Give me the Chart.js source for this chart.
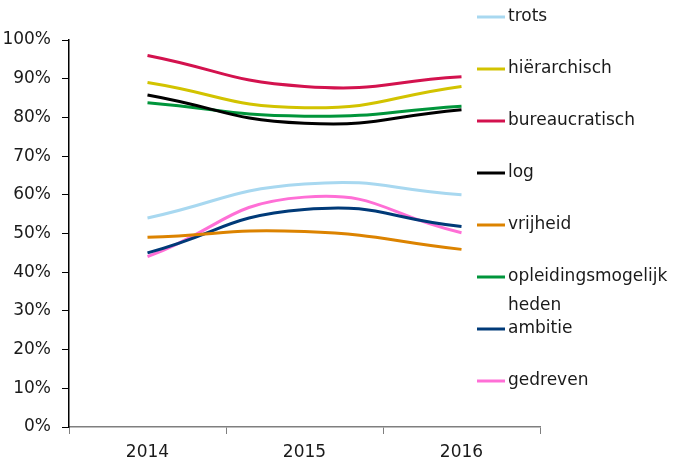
<!DOCTYPE html>
<html>
<head>
<meta charset="utf-8">
<script src="https://cdn.jsdelivr.net/npm/chart.js@4/dist/chart.umd.min.js"></script>
<style>
  html, body { margin: 0; padding: 0; background: #fff; }
  #wrap { width: 691px; height: 464px; }
</style>
</head>
<body>
<div id="wrap"><canvas id="chart" width="691" height="464"></canvas></div>
<script>
const years = ["2014", "2015", "2016"];
const yTicks = [0, 10, 20, 30, 40, 50, 60, 70, 80, 90, 100];

const seriesNames = ["trots", "hiërarchisch", "bureaucratisch", "log", "vrijheid", "opleidingsmogelijkheden", "ambitie", "gedreven"];
const legendText = [["trots"], ["hiërarchisch"], ["bureaucratisch"], ["log"], ["vrijheid"], ["opleidingsmogelijk", "heden"], ["ambitie"], ["gedreven"]];

const trots = [54, 62.8, 60];
const hierarchisch = [89, 82.5, 88];
const bureaucratisch = [96, 88, 90.5];
const log = [85.8, 78.5, 82];
const vrijheid = [49, 50.5, 45.9];
const opleidingsmogelijkheden = [83.8, 80.3, 82.9];
const ambitie = [45, 56.2, 51.8];
const gedreven = [44, 59.4, 50.2];

const seriesValues = [trots, hierarchisch, bureaucratisch, log, vrijheid, opleidingsmogelijkheden, ambitie, gedreven];
const seriesColors = ["#a8d8f0", "#d2c300", "#d3124e", "#000000", "#dc8300", "#00953b", "#003a78", "#ff6fd6"];

const FONT = "'DejaVu Sans', sans-serif";

// legend drawn by hand so the long label can wrap like the original
const sideLegend = {
  id: "sideLegend",
  afterDraw(chart) {
    const ctx = chart.ctx;
    ctx.save();
    ctx.font = "17px " + FONT;
    ctx.textBaseline = "middle";
    ctx.textAlign = "left";
    chart.data.datasets.forEach((ds, i) => {
      const y = 17 + 52 * i;
      ctx.strokeStyle = ds.borderColor;
      ctx.lineWidth = 3;
      ctx.beginPath();
      ctx.moveTo(477, y);
      ctx.lineTo(505, y);
      ctx.stroke();
      ctx.fillStyle = "#1a1a1a";
      legendText[i].forEach((line, j) => {
        ctx.fillText(line, 508, y + j * 29);
      });
    });
    ctx.restore();
  }
};

const datasets = seriesNames.map((name, i) => ({
  label: name,
  data: seriesValues[i],
  borderColor: seriesColors[i],
  backgroundColor: seriesColors[i],
  borderWidth: 3,
  pointRadius: 0,
  tension: 0.5,
  fill: false
}));

new Chart(document.getElementById("chart"), {
  type: "line",
  data: { labels: years, datasets: datasets },
  options: {
    responsive: false,
    animation: false,
    layout: { padding: { top: 40, right: 151, left: 0, bottom: 0 } },
    plugins: { legend: { display: false }, tooltip: { enabled: false } },
    scales: {
      x: {
        offset: true,
        grid: { offset: true, drawOnChartArea: false, drawTicks: true, tickLength: 7, color: "#7f7f7f" },
        border: { color: "#7f7f7f", width: 1.5 },
        ticks: { color: "#1a1a1a", font: { family: FONT, size: 17 }, padding: 8 },
        afterFit(scale) { scale.height = 37; }
      },
      y: {
        min: 0,
        max: 100,
        afterBuildTicks(scale) { scale.ticks = yTicks.map(v => ({ value: v })); },
        grid: { drawOnChartArea: false, drawTicks: true, tickLength: 7, color: "#000" },
        border: { color: "#000", width: 1.5 },
        ticks: {
          color: "#1a1a1a",
          font: { family: FONT, size: 17 },
          padding: 11,
          callback: v => v + "%"
        },
        afterFit(scale) { scale.width = 69; }
      }
    }
  },
  plugins: [sideLegend]
});
</script>
</body>
</html>
